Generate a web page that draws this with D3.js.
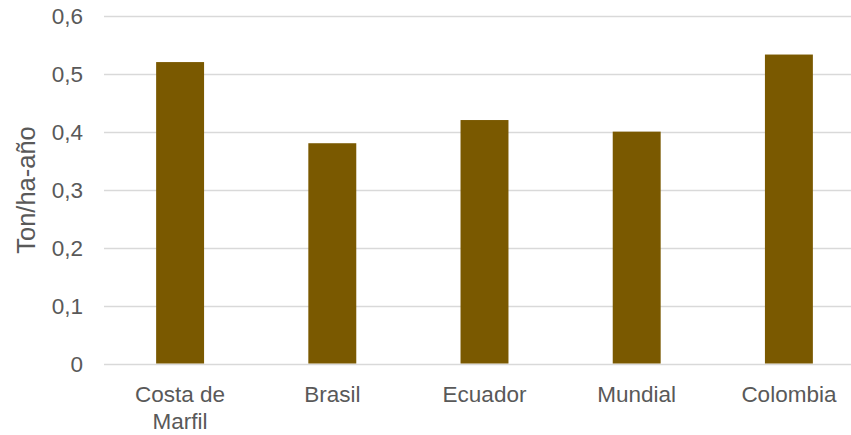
<!DOCTYPE html>
<html><head><meta charset="utf-8">
<script src="https://cdn.jsdelivr.net/npm/d3@7"></script>
<style>body{margin:0;background:#fff}svg{display:block}text{font-family:"Liberation Sans",Arial,sans-serif;fill:#595959}</style>
</head><body>
<script>
const categories = [["Costa de","Marfil"],["Brasil"],["Ecuador"],["Mundial"],["Colombia"]];
const values = [0.52, 0.38, 0.42, 0.40, 0.533];
const yTicks = [0,0.1,0.2,0.3,0.4,0.5,0.6];
const yTitle = "Ton/ha-año";

const W=851,H=435;
const svg=d3.select("body").append("svg").attr("width",W).attr("height",H);
const x=d3.scaleBand().domain(d3.range(categories.length)).range([104,865]).paddingInner(0.685).paddingOuter(0.3425);
const y=d3.scaleLinear().domain([0,0.6]).range([363.5,15.7]);
const fmt=d=>d3.format(".1f")(d).replace(".",",");

svg.append("g").selectAll("line").data(yTicks).join("line")
 .attr("x1",104).attr("x2",851).attr("y1",d=>Math.round(y(d))+0.5).attr("y2",d=>Math.round(y(d))+0.5)
 .attr("stroke","#d9d9d9").attr("stroke-width",1.3);
svg.append("g").selectAll("text").data(yTicks).join("text")
 .attr("x",83).attr("y",d=>y(d)).attr("dy","0.36em").attr("text-anchor","end")
 .style("font-size","22.5px").text(d=>d===0?"0":fmt(d));

svg.append("g").selectAll("rect").data(values).join("rect")
 .attr("x",(d,i)=>x(i)).attr("width",x.bandwidth())
 .attr("y",d=>y(d)).attr("height",d=>y(0)-y(d)).attr("fill","#7a5900");

const xl=svg.append("g").selectAll("text").data(categories).join("text")
 .attr("text-anchor","middle").attr("x",(d,i)=>x(i)+x.bandwidth()/2).attr("y",402).style("font-size","22.5px");
xl.selectAll("tspan").data(d=>d).join("tspan").attr("x",function(){return this.parentNode.getAttribute("x");})
 .attr("dy",(d,i)=>i===0?0:27).text(d=>d);

svg.append("text").attr("transform","translate(35,190) rotate(-90)").attr("text-anchor","middle")
 .style("font-size","25.5px").text(yTitle);
</script>
</body></html>
